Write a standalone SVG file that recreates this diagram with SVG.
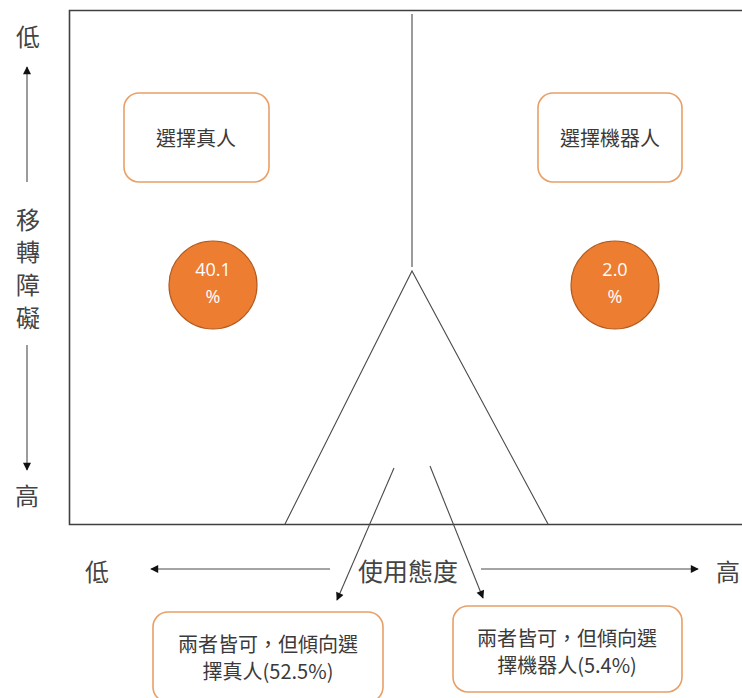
<svg xmlns="http://www.w3.org/2000/svg" width="742" height="698" viewBox="0 0 742 698">
<defs>
<style>
.t{font-family:"Noto Sans CJK TC","Noto Sans",sans-serif;fill:#3a3a3a;text-anchor:middle;dominant-baseline:central}
.ax{font-size:24px;fill:#444}
.bx{font-size:20px}
.box{fill:#fff;stroke:#E8A068;stroke-width:1.6}
.cir{fill:#ED7D31;stroke:#B25A1E;stroke-width:1.2}
.ct{font-family:"Open Sans","Liberation Sans",sans-serif;font-size:18px;fill:#fff;text-anchor:middle;dominant-baseline:central}
.ln{stroke:#4a4a4a;stroke-width:1.1;fill:none}
.fr{stroke:#404040;stroke-width:1.6;fill:none}
</style>
<marker id="ah" viewBox="0 0 10 10" refX="9" refY="5" markerWidth="10" markerHeight="8" markerUnits="userSpaceOnUse" orient="auto">
<path d="M0,0 L10,5 L0,10 z" fill="#111"/>
</marker>
</defs>
<rect width="742" height="698" fill="#fff"/>
<g id="frame">
<path class="fr" d="M742,10.5 H69.5 V524.5 H742"/>
</g>
<g id="connectors">
<line class="ln" x1="412" y1="14" x2="412" y2="267"/>
<path class="ln" d="M285,524 L412,271 L548,524"/>
<line class="ln" x1="394" y1="468" x2="337" y2="600" marker-end="url(#ah)"/>
<line class="ln" x1="430" y1="466" x2="483" y2="598" marker-end="url(#ah)"/>
<line class="ln" x1="27" y1="182" x2="27" y2="67" marker-end="url(#ah)"/>
<line class="ln" x1="27" y1="345" x2="27" y2="470" marker-end="url(#ah)"/>
<line class="ln" x1="330" y1="569" x2="151" y2="569" marker-end="url(#ah)"/>
<line class="ln" x1="481" y1="569" x2="698" y2="569" marker-end="url(#ah)"/>
</g>
<g id="axis-labels">
<text class="t ax" x="28" y="35">低</text>
<text class="t ax" x="28" y="218">移</text>
<text class="t ax" x="28" y="250">轉</text>
<text class="t ax" x="28" y="283">障</text>
<text class="t ax" x="28" y="316">礙</text>
<text class="t ax" x="27" y="494">高</text>
<text class="t ax" x="97" y="570">低</text>
<text class="t ax" x="408" y="570" style="font-size:25px">使用態度</text>
<text class="t ax" x="728" y="570">高</text>
</g>
<g id="node-real">
<rect class="box" x="124" y="93" width="145" height="89" rx="15"/>
<text class="t bx" x="196" y="137">選擇真人</text>
</g>
<g id="node-robot">
<rect class="box" x="538" y="93" width="144" height="89" rx="15"/>
<text class="t bx" x="610" y="137">選擇機器人</text>
</g>
<g id="pct-real">
<ellipse class="cir" cx="213" cy="285" rx="44" ry="44"/>
<text class="ct" x="213" y="269">40.1</text>
<text class="ct" x="213" y="296">%</text>
</g>
<g id="pct-robot">
<ellipse class="cir" cx="615" cy="285" rx="44" ry="44"/>
<text class="ct" x="615" y="269">2.0</text>
<text class="ct" x="615" y="296">%</text>
</g>
<g id="node-both-real">
<rect class="box" x="153" y="612" width="230" height="90" rx="15"/>
<text class="t bx" x="268" y="643">兩者皆可，但傾向選</text>
<text class="t bx" x="268" y="670">擇真人(52.5%)</text>
</g>
<g id="node-both-robot">
<rect class="box" x="453" y="606" width="229" height="86" rx="15"/>
<text class="t bx" x="567" y="637">兩者皆可，但傾向選</text>
<text class="t bx" x="567" y="664">擇機器人(5.4%)</text>
</g>
</svg>
